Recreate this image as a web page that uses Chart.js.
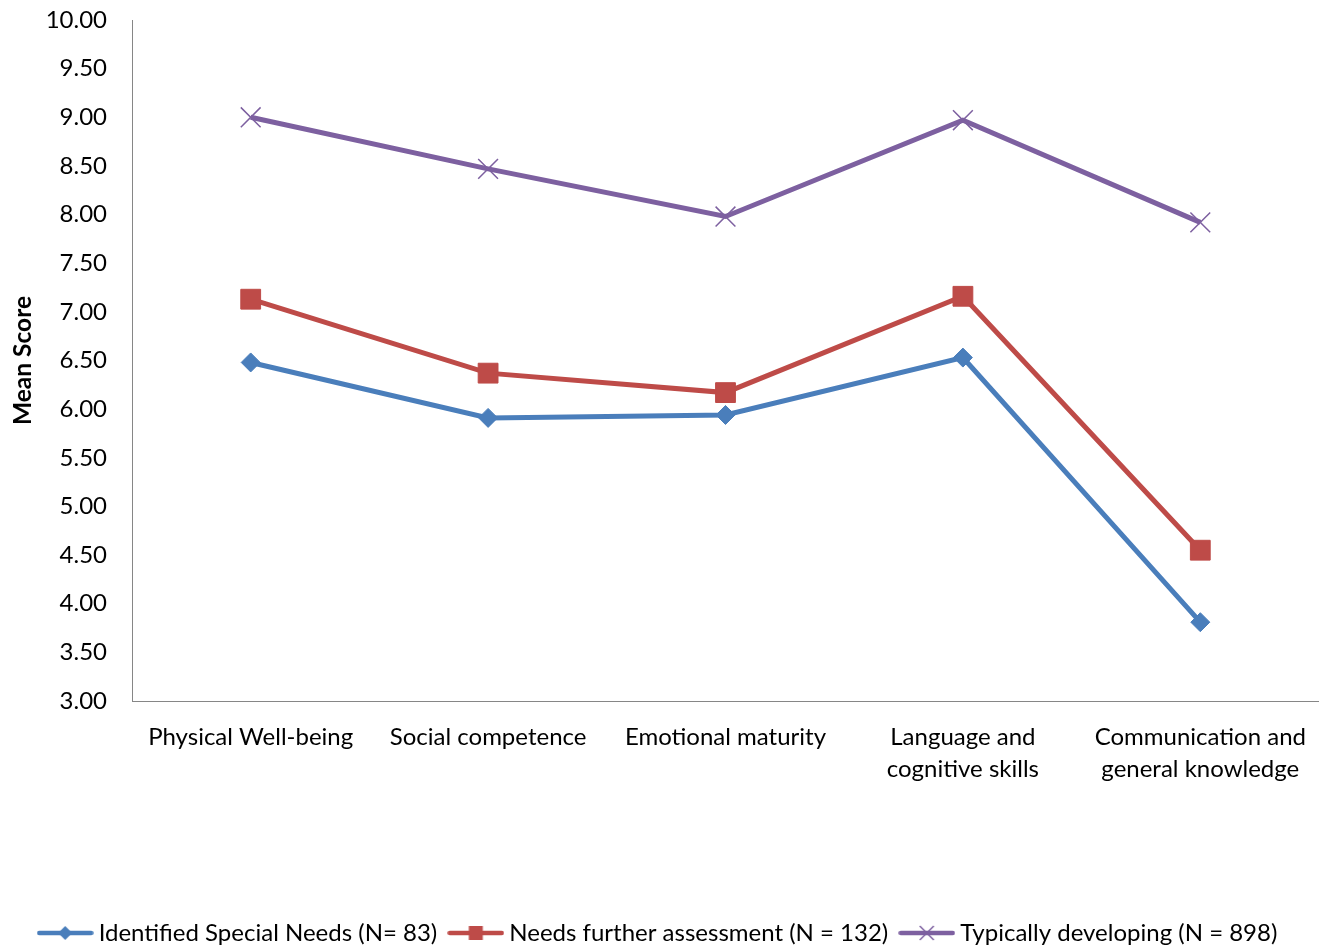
<!DOCTYPE html>
<html>
<head>
<meta charset="utf-8">
<style>
  html, body { margin: 0; padding: 0; background: #ffffff; }
  #wrap { width: 1319px; height: 951px; position: relative; }
</style>
<script src="https://cdn.jsdelivr.net/npm/chart.js@4.4.1/dist/chart.umd.min.js"></script>
</head>
<body>
<div id="wrap"><canvas id="c" width="1319" height="951"></canvas></div>
<script>
// Domain categories (multi-line labels on the x axis)
const categories = [
  'Physical Well-being',
  'Social competence',
  'Emotional maturity',
  ['Language and', 'cognitive skills'],
  ['Communication and', 'general knowledge']
];

// Mean scores per group
const identifiedSpecialNeeds = [6.48, 5.91, 5.94, 6.53, 3.81];
const needsFurtherAssessment = [7.13, 6.37, 6.17, 7.16, 4.55];
const typicallyDeveloping = [9.00, 8.47, 7.98, 8.97, 7.92];

const seriesNames = [
  'Identified Special Needs (N= 83)',
  'Needs further assessment (N = 132)',
  'Typically developing (N = 898)'
];

const yMin = 3, yMax = 10, yStep = 0.5;

const FONT = 'Lato, "Open Sans", sans-serif';
const BLUE = '#4A7EBB', RED = '#BE4B48', PURPLE = '#7D60A0';

// Small legend swatches: a line segment with the series marker in the middle
function legendSwatch(color, marker) {
  const c = document.createElement('canvas');
  c.width = 57; c.height = 20;
  const g = c.getContext('2d');
  g.strokeStyle = color; g.lineWidth = 4.5; g.lineCap = 'round';
  g.beginPath(); g.moveTo(2.5, 10); g.lineTo(54.5, 10); g.stroke();
  g.fillStyle = color;
  const cx = 28.5, cy = 10;
  if (marker === 'diamond') {
    g.beginPath(); g.moveTo(cx - 7, cy); g.lineTo(cx, cy - 7); g.lineTo(cx + 7, cy); g.lineTo(cx, cy + 7); g.closePath(); g.fill();
  } else if (marker === 'square') {
    g.fillRect(cx - 7, cy - 7, 14, 14);
  } else {
    g.lineWidth = 1.5; g.lineCap = 'butt';
    g.beginPath(); g.moveTo(cx - 7, cy - 7); g.lineTo(cx + 7, cy + 7); g.moveTo(cx + 7, cy - 7); g.lineTo(cx - 7, cy + 7); g.stroke();
  }
  return c;
}
const swatches = [legendSwatch(BLUE, 'diamond'), legendSwatch(RED, 'square'), legendSwatch(PURPLE, 'cross')];

// Fixed legend height so the plot area keeps its proportions
const legendHeightPlugin = {
  id: 'legendHeight',
  afterInit(chart) {
    const lg = chart.legend;
    if (!lg) return;
    const origFit = lg.fit.bind(lg);
    lg.fit = function () { origFit(); this.height = 47; };
  }
};

// Invisible tick marks: they only space the labels away from the axis line
const hiddenTicks = (len) => ({
  display: true,
  drawOnChartArea: false,
  drawTicks: true,
  tickLength: len,
  color: 'rgba(0,0,0,0)'
});

new Chart(document.getElementById('c'), {
  type: 'line',
  data: {
    labels: categories,
    datasets: [
      {
        label: seriesNames[0], data: identifiedSpecialNeeds,
        borderColor: BLUE, backgroundColor: BLUE, borderWidth: 5,
        pointStyle: 'rectRot', pointRadius: 9.5, pointBorderWidth: 1,
        pointBackgroundColor: BLUE, pointBorderColor: BLUE, tension: 0
      },
      {
        label: seriesNames[1], data: needsFurtherAssessment,
        borderColor: RED, backgroundColor: RED, borderWidth: 5,
        pointStyle: 'rect', pointRadius: 14, pointBorderWidth: 1,
        pointBackgroundColor: RED, pointBorderColor: RED, tension: 0
      },
      {
        label: seriesNames[2], data: typicallyDeveloping,
        borderColor: PURPLE, backgroundColor: PURPLE, borderWidth: 5,
        pointStyle: 'crossRot', pointRadius: 14, pointBorderWidth: 1.5,
        pointBackgroundColor: PURPLE, pointBorderColor: PURPLE, tension: 0
      }
    ]
  },
  options: {
    responsive: false,
    animation: false,
    devicePixelRatio: 1,
    layout: { autoPadding: false, padding: { top: 20, left: 0, right: -2, bottom: 0 } },
    plugins: {
      tooltip: { enabled: false },
      legend: {
        position: 'bottom',
        labels: {
          usePointStyle: true,
          pointStyleWidth: 43,
          padding: 17,
          color: '#000000',
          font: { family: FONT, size: 24 },
          generateLabels(chart) {
            const items = Chart.defaults.plugins.legend.labels.generateLabels(chart);
            items.forEach((it) => { it.pointStyle = swatches[it.datasetIndex]; });
            return items;
          }
        }
      }
    },
    scales: {
      x: {
        type: 'category',
        offset: true,
        grid: hiddenTicks(17),
        border: { display: true, color: '#868686', width: 1 },
        ticks: {
          color: '#000000',
          padding: 3,
          maxRotation: 0,
          autoSkip: false,
          font: { family: FONT, size: 24, lineHeight: 1.33 }
        },
        afterFit(scale) {
          scale.height = 203;
          scale.paddingLeft = 0;
          scale.paddingRight = 0;
        }
      },
      y: {
        min: yMin, max: yMax,
        grid: hiddenTicks(22),
        border: { display: true, color: '#868686', width: 1 },
        ticks: {
          stepSize: yStep,
          color: '#000000',
          padding: 3,
          font: { family: FONT, size: 24 },
          callback: v => Number(v).toFixed(2)
        },
        title: {
          display: true,
          text: 'Mean Score',
          color: '#000000',
          font: { family: FONT, size: 24.5, weight: 'bold', lineHeight: 1.2 },
          padding: { top: 8, bottom: 0 }
        },
        afterFit(scale) { scale.width = 132; }
      }
    }
  },
  plugins: [legendHeightPlugin]
});
</script>
</body>
</html>
